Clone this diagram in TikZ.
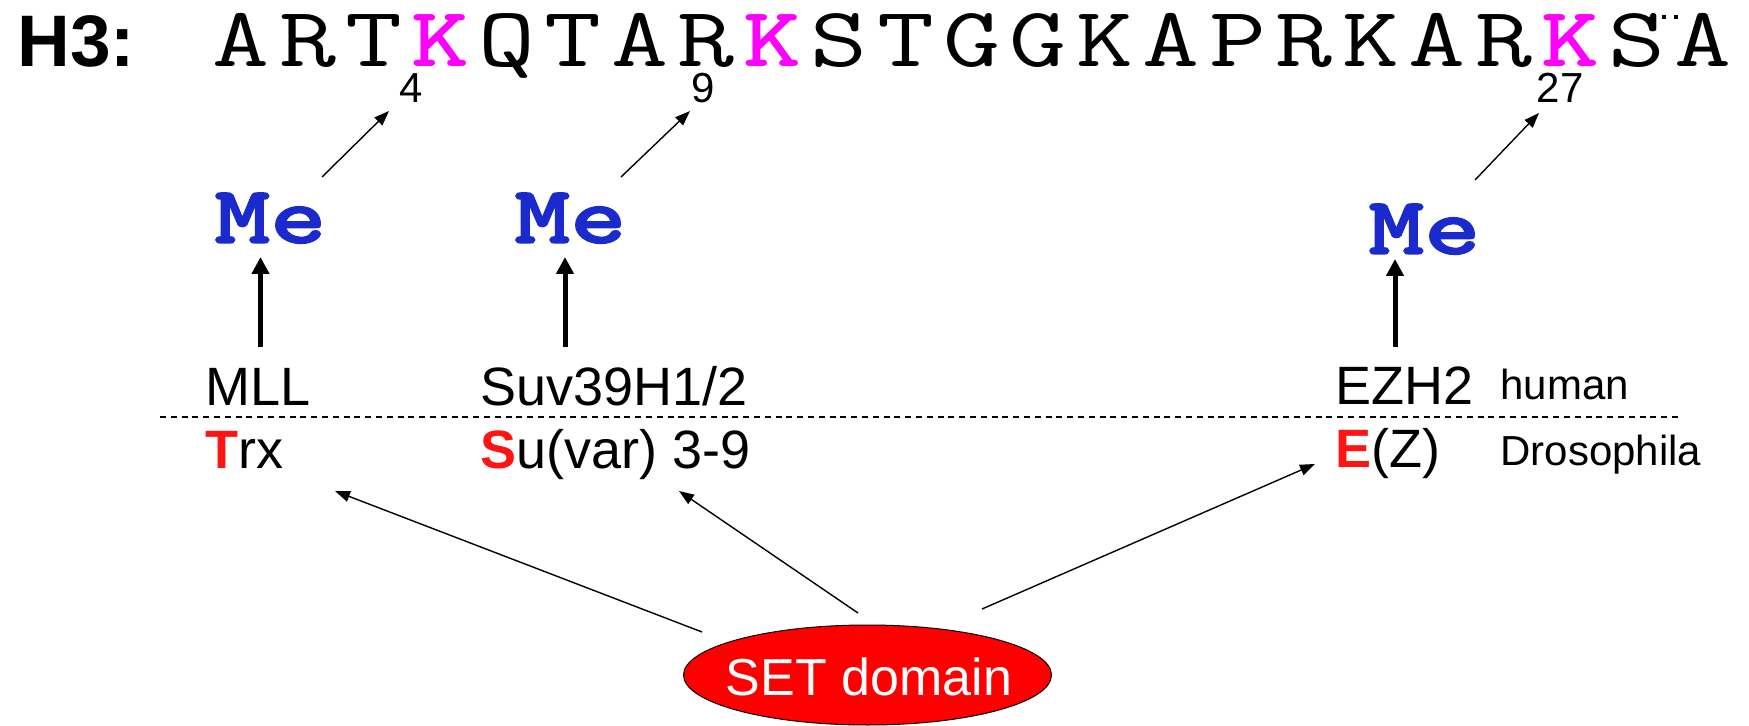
\documentclass[tikz,border=0pt]{standalone}
\usepackage{fontspec}
\setmainfont{Liberation Sans}
\newfontfamily\memono{lmmonolt10-bold.otf}[FakeBold=1.6]
\usetikzlibrary{arrows.meta,shapes.geometric}
\definecolor{lys}{RGB}{255,0,255}
\definecolor{meblue}{RGB}{26,42,204}
\definecolor{setred}{RGB}{255,0,0}
\definecolor{initred}{RGB}{255,20,20}
\begin{document}
\begin{tikzpicture}[x=0.5pt,y=-0.5pt,
  res/.style={anchor=base,inner sep=0pt,text depth=0pt,font=\ttfamily\fontsize{42.5}{50}\selectfont},
  resnum/.style={anchor=base,inner sep=0pt,font=\fontsize{21}{25}\selectfont},
  methyl/.style={anchor=base west,inner sep=0pt,text=meblue,font=\memono\fontsize{41}{48}\selectfont},
  gene/.style={anchor=base west,inner sep=0pt,font=\fontsize{27}{32}\selectfont},
  species/.style={anchor=base west,inner sep=0pt,font=\fontsize{21}{25}\selectfont},
  thinarrow/.style={line width=0.7pt,-{Triangle[length=7.5pt,width=5.5pt]}},
  thickarrow/.style={line width=2.5pt,-{Triangle[length=8.5pt,width=8.5pt]}},
  divider/.style={line width=0.75pt,dash pattern=on 3pt off 2.4pt},
]
\useasboundingbox (0,0) rectangle (1749,726);

% histone H3 N-terminal tail
\node[anchor=base west,inner sep=0pt,font=\bfseries\fontsize{36.5}{44}\selectfont] (h3) at (17,67) {H3:};
\foreach \c/\f [count=\i from 0] in {A/0,R/0,T/0,K/1,Q/0,T/0,A/0,R/0,K/1,S/0,T/0,G/0,G/0,K/0,A/0,P/0,R/0,K/0,A/0,R/0,K/1,S/0,A/0}
  \node[res] (s\i) at ({241+66.45*\i},67)
    {\ifnum\f=1 \color{lys}\bfseries\fi\scalebox{1.3}[1]{\c}};
\fill (1662,15) rectangle (1666,19);
\fill (1674,15) rectangle (1678,19);

% residue numbers
\node[resnum] (n4) at (411,103) {4};
\node[resnum] (n9) at (703,103) {9};
\node[resnum] (n27) at (1560,103) {27};

% methyl marks
\node[methyl] (me1) at (214,243) {\scalebox{1.3}[1]{Me}};
\node[methyl] (me2) at (514,243) {\scalebox{1.3}[1]{Me}};
\node[methyl] (me3) at (1368,254) {\scalebox{1.3}[1]{Me}};

% enzymes
\node[gene] (mll) at (205,406) {MLL};
\node[gene] (suv) at (480,406) {Suv39H1/2};
\node[gene] (ezh) at (1335,405) {EZH2};
\node[species] (hum) at (1500,400) {human};
\node[gene] (trx) at (205,469) {\textcolor{initred}{\bfseries T}rx};
\node[gene] (suvar) at (480,469) {\textcolor{initred}{\bfseries S}u(var) 3-9};
\node[gene] (ez) at (1335,468) {\textcolor{initred}{\bfseries E}(Z)};
\node[species] (dros) at (1500,466) {Drosophila};

\coordinate (divl) at (160,417);
\coordinate (divr) at (1680,417);
\draw[divider] (divl) -- (divr);

% SET domain
\node[ellipse,draw,line width=0.5pt,fill=setred,minimum width=184pt,minimum height=50pt,inner sep=0pt] (set) at (867.5,675) {};
\node[inner sep=0pt,text=white,font=\fontsize{26}{30}\selectfont] (setlabel) at (869,677) {SET domain};

% Me -> lysine
\coordinate (m1a) at (322,177); \coordinate (m1b) at (389,111);
\coordinate (m2a) at (621,177); \coordinate (m2b) at (690,111);
\coordinate (m3a) at (1475,180); \coordinate (m3b) at (1539,113);
\draw[thinarrow] (m1a) -- (m1b);
\draw[thinarrow] (m2a) -- (m2b);
\draw[thinarrow] (m3a) -- (m3b);

% enzyme -> Me
\coordinate (v1a) at (260.5,347); \coordinate (v1b) at (260.5,257);
\coordinate (v2a) at (565,347); \coordinate (v2b) at (565,257);
\coordinate (v3a) at (1395,347); \coordinate (v3b) at (1395,259);
\draw[thickarrow] (v1a) -- (v1b);
\draw[thickarrow] (v2a) -- (v2b);
\draw[thickarrow] (v3a) -- (v3b);

% SET domain -> enzymes
\coordinate (d1a) at (702,632); \coordinate (d1b) at (335,491);
\coordinate (d2a) at (858,613); \coordinate (d2b) at (679,491);
\coordinate (d3a) at (982,609); \coordinate (d3b) at (1315,464);
\draw[thinarrow] (d1a) -- (d1b);
\draw[thinarrow] (d2a) -- (d2b);
\draw[thinarrow] (d3a) -- (d3b);
\end{tikzpicture}
\end{document}
